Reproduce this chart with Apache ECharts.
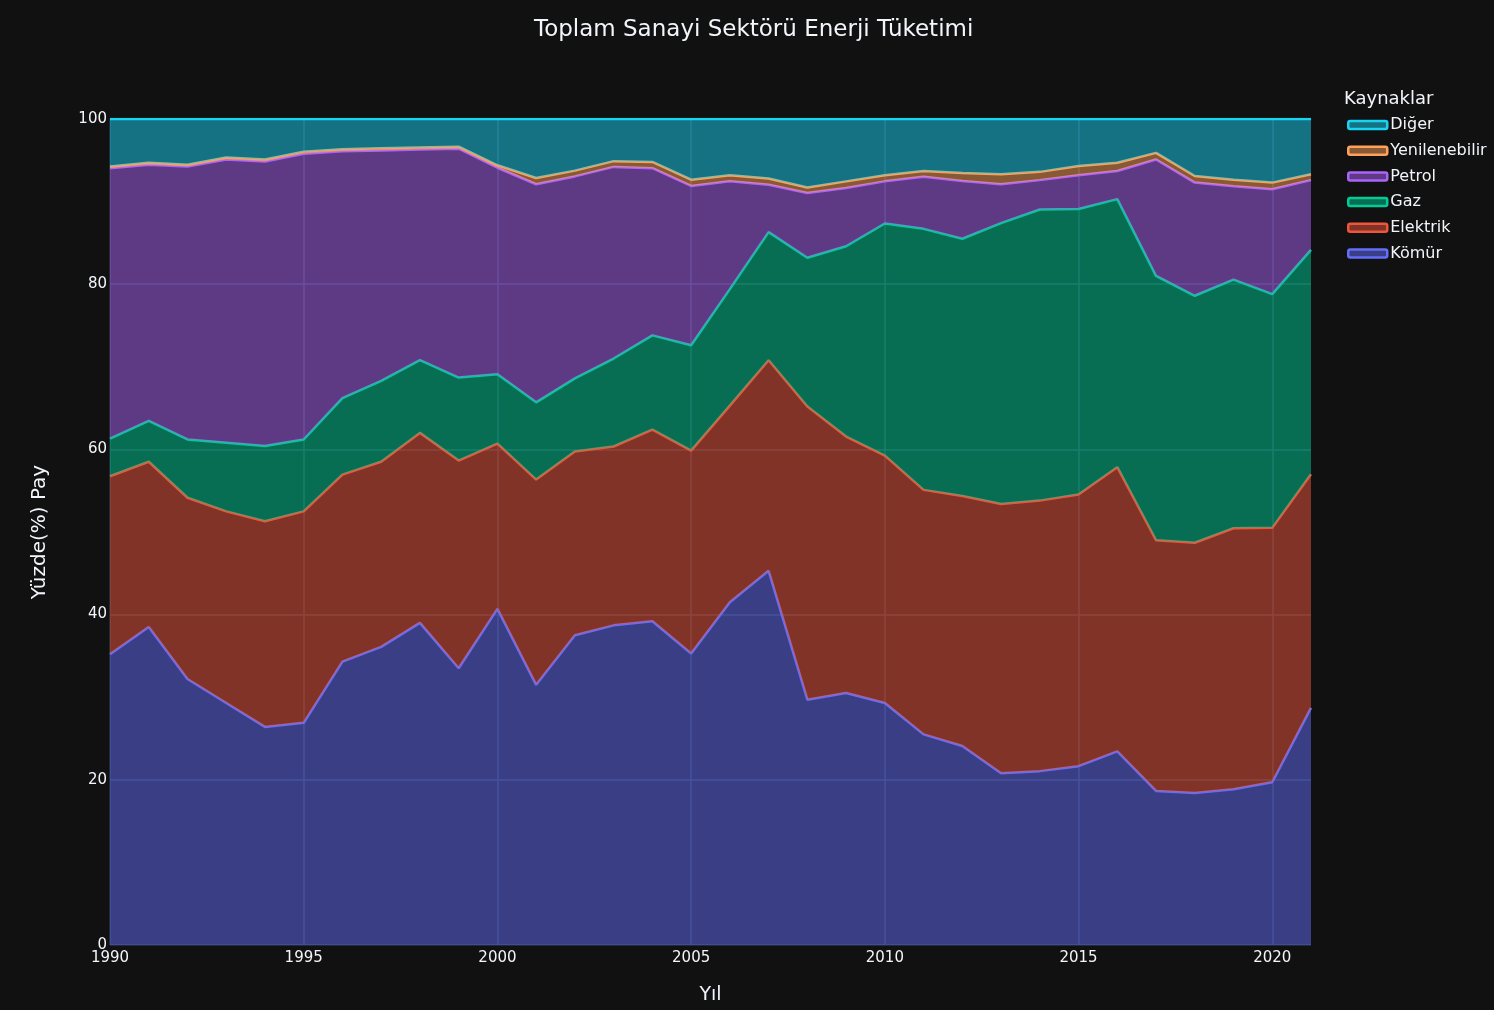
<!DOCTYPE html>
<html>
<head>
<meta charset="utf-8">
<script src="https://cdn.jsdelivr.net/npm/echarts@6/dist/echarts.min.js"></script>
<style>
html,body{margin:0;padding:0;background:#111111;overflow:hidden;}
#c{width:1494px;height:1010px;}
</style>
</head>
<body>
<div id="c"></div>
<script>
var years = ['1990','1991','1992','1993','1994','1995','1996','1997','1998','1999','2000','2001','2002','2003','2004','2005','2006','2007','2008','2009','2010','2011','2012','2013','2014','2015','2016','2017','2018','2019','2020','2021'];
var komur = [35.2,38.5,32.2,29.3,26.4,26.9,34.3,36.1,39.0,33.5,40.7,31.5,37.5,38.7,39.2,35.3,41.5,45.3,29.7,30.5,29.3,25.5,24.1,20.8,21.05,21.65,23.45,18.65,18.4,18.85,19.7,28.7];
var elektrik = [21.55,20.0,21.95,23.2,24.9,25.6,22.65,22.4,23.0,25.15,20.0,24.85,22.25,21.65,23.2,24.55,23.8,25.5,35.5,31.05,29.95,29.6,30.25,32.6,32.75,32.9,34.4,30.35,30.3,31.6,30.8,28.3];
var gaz = [4.55,4.95,7.05,8.3,9.1,8.7,9.25,9.8,8.8,10.05,8.4,9.35,8.85,10.65,11.4,12.75,14.1,15.5,18.0,23.05,28.1,31.6,31.15,34.0,35.25,34.55,32.45,32.0,29.9,30.1,28.3,27.15];
var petrol = [32.75,31.0,33.05,34.3,34.45,34.6,29.9,27.9,25.5,27.7,25.0,26.4,24.45,23.2,20.25,19.3,13.05,5.75,7.85,7.05,5.1,6.3,7.0,4.7,3.55,4.1,3.4,14.1,13.7,11.3,12.7,8.45];
var yenilenebilir = [0.2,0.25,0.2,0.25,0.25,0.25,0.25,0.25,0.25,0.25,0.3,0.75,0.7,0.7,0.75,0.75,0.75,0.75,0.65,0.8,0.75,0.7,0.95,1.2,1.0,1.1,1.0,0.8,0.8,0.8,0.8,0.7];
var diger = [5.75,5.3,5.55,4.65,4.9,3.95,3.65,3.55,3.45,3.35,5.6,7.15,6.25,5.1,5.2,7.35,6.8,7.2,8.3,7.55,6.8,6.3,6.55,6.7,6.4,5.7,5.3,4.1,6.9,7.35,7.7,6.7];
var yTicks = [0,20,40,60,80,100];
var xTicks = ['1990','1995','2000','2005','2010','2015','2020'];

var names = ['Kömür','Elektrik','Gaz','Petrol','Yenilenebilir','Diğer'];
var values = [komur, elektrik, gaz, petrol, yenilenebilir, diger];
var colors = ['#636efa','#EF553B','#00cc96','#ab63fa','#FFA15A','#19d3f3'];
function rgba(hex, a){
  var r=parseInt(hex.substr(1,2),16), g=parseInt(hex.substr(3,2),16), b=parseInt(hex.substr(5,2),16);
  return 'rgba('+r+','+g+','+b+','+a+')';
}
var txt = '#f2f5fa';
var font = "'DejaVu Sans', 'Noto Sans', sans-serif";

var series = names.map(function(n, i){
  return {
    name: n,
    type: 'line',
    stack: 'total',
    showSymbol: false,
    symbol: 'none',
    data: values[i],
    lineStyle: {color: colors[i], width: 2.5},
    itemStyle: {color: colors[i]},
    areaStyle: {color: rgba(colors[i], 0.5), opacity: 1},
    emphasis: {disabled: true},
    z: 2 + i
  };
});

var legendData = names.slice().reverse().map(function(n){
  var i = names.indexOf(n);
  return {name: n, icon: 'roundRect', itemStyle: {color: rgba(colors[i], 0.5), borderColor: colors[i], borderWidth: 2.5}};
});

function isTick(idx, val){ return xTicks.indexOf(String(val)) >= 0; }

var chart = echarts.init(document.getElementById('c'), null, {width: 1494, height: 1010});
chart.setOption({
  backgroundColor: '#111111',
  animation: false,
  textStyle: {fontFamily: font},
  title: [
    {text: 'Toplam Sanayi Sektörü Enerji Tüketimi', left: 529, top: 14,
     textStyle: {color: txt, fontSize: 23, fontWeight: 'normal', fontFamily: font}},
    {text: 'Kaynaklar', left: 1339, top: 85,
     textStyle: {color: txt, fontSize: 18, fontWeight: 'normal', fontFamily: font}}
  ],
  legend: {
    orient: 'vertical',
    left: 1342,
    top: 112,
    itemWidth: 39,
    itemHeight: 8,
    itemGap: 9.7,
    data: legendData,
    selectedMode: false,
    textStyle: {color: txt, fontSize: 16, lineHeight: 16, fontFamily: font, padding: [0,0,0,-2]}
  },
  grid: {left: 110, top: 119, width: 1201, height: 831, containLabel: false},
  xAxis: {
    type: 'category',
    data: years,
    boundaryGap: false,
    name: 'Yıl', nameLocation: 'middle', nameGap: 41,
    nameTextStyle: {color: txt, fontSize: 19, fontFamily: font},
    axisLine: {show: false},
    axisTick: {show: false},
    axisLabel: {color: txt, fontSize: 15, margin: 6, fontFamily: font, interval: isTick},
    splitLine: {show: true, interval: isTick, lineStyle: {color: '#283442', width: 1.5}}
  },
  yAxis: {
    type: 'value',
    min: 0, max: 100, interval: 20,
    name: 'Yüzde(%) Pay', nameLocation: 'middle', nameGap: 60,
    nameTextStyle: {color: txt, fontSize: 20, fontFamily: font},
    axisLine: {show: false},
    axisTick: {show: false},
    axisLabel: {color: txt, fontSize: 15, margin: 3, fontFamily: font,
      formatter: function(v){ return yTicks.indexOf(v) >= 0 ? String(v) : ''; }},
    splitLine: {show: true, lineStyle: {color: '#283442', width: 1.5}}
  },
  series: series
});
</script>
</body>
</html>
